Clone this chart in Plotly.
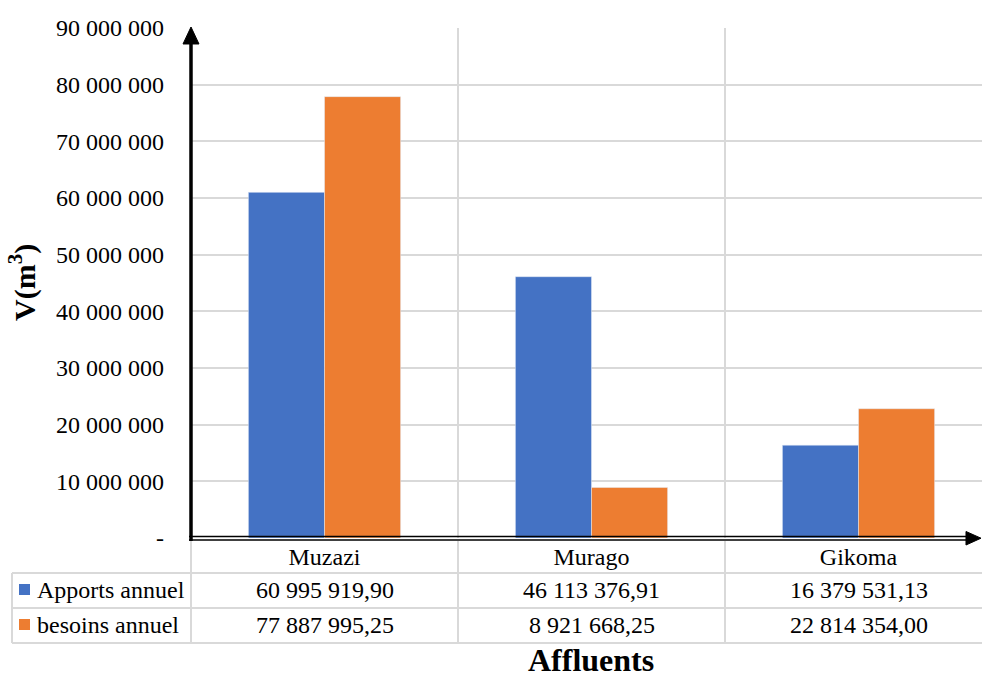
import plotly.graph_objects as go

# Data
categories = ["Muzazi", "Murago", "Gikoma"]
apports = [60995919.90, 46113376.91, 16379531.13]
besoins = [77887995.25, 8921668.25, 22814354.00]
series_names = ["Apports annuel", "besoins annuel"]
y_ticks = [0, 10000000, 20000000, 30000000, 40000000, 50000000,
           60000000, 70000000, 80000000, 90000000]

BLUE = "#4472C4"
ORANGE = "#ED7D31"
GRID = "#D9D9D9"
FONT = "Times New Roman, Liberation Serif, serif"
FS = 24

W, H = 982, 677
L, R, T, B = 191, 0, 28, 139
PW, PH = W - L - R, H - T - B


def fr_int(v):
    return "-" if v == 0 else f"{v:,.0f}".replace(",", " ")


def fr_dec(v):
    return f"{v:,.2f}".replace(",", "X").replace(".", ",").replace("X", " ")


def px_x(px):
    return (px - L) / PW


def px_y(py):
    return (H - B - py) / PH


def tri(points):
    pts = [f"{px_x(x):.5f},{px_y(y):.5f}" for x, y in points]
    return "M " + " L ".join(pts) + " Z"


fig = go.Figure()
fig.add_bar(x=categories, y=apports, name=series_names[0], marker_color=BLUE)
fig.add_bar(x=categories, y=besoins, name=series_names[1], marker_color=ORANGE)

# category width in pixels (plot extends slightly past right edge)
cat_w = 267.0
x_hi = -0.5 + PW / cat_w

fig.update_layout(
    width=W, height=H,
    margin=dict(l=L, r=R, t=T, b=B),
    paper_bgcolor="white", plot_bgcolor="white",
    showlegend=False,
    barmode="group", bargap=0.43, bargroupgap=0,
    font=dict(family=FONT, size=FS, color="black"),
    xaxis=dict(
        range=[-0.5, x_hi],
        tickson="boundaries", showgrid=True, gridcolor=GRID, gridwidth=1.5,
        showline=False, ticks="", ticklabelstandoff=2,
        tickfont=dict(family=FONT, size=FS),
        zeroline=False,
    ),
    yaxis=dict(
        range=[0, 90000000],
        tickvals=y_ticks, ticktext=[fr_int(v) for v in y_ticks],
        showgrid=True, gridcolor=GRID, gridwidth=1.5,
        showline=False, ticks="", ticklabelstandoff=26,
        zeroline=False,
        tickfont=dict(family=FONT, size=FS),
    ),
)

shapes = []
line = dict(color=GRID, width=2)
# data table grid
row_y = [541, 573, 608, 643]
for yy in row_y[1:]:
    shapes.append(dict(type="line", xref="paper", yref="paper",
                       x0=px_x(12), x1=1, y0=px_y(yy), y1=px_y(yy), line=line))
shapes.append(dict(type="line", xref="paper", yref="paper",
                   x0=px_x(12), x1=px_x(12), y0=px_y(573), y1=px_y(643), line=line))
for i in range(3):
    xb = L + i * cat_w
    shapes.append(dict(type="line", xref="paper", yref="paper",
                       x0=px_x(xb), x1=px_x(xb), y0=px_y(541), y1=px_y(643), line=line))
# legend keys in the table
for yc, col in [(590, BLUE), (625, ORANGE)]:
    shapes.append(dict(type="rect", xref="paper", yref="paper",
                       x0=px_x(19), x1=px_x(30), y0=px_y(yc - 6), y1=px_y(yc + 5),
                       fillcolor=col, line=dict(width=0)))
# axis lines: double horizontal rule, thick vertical axis
for yy in (536.5, 540):
    shapes.append(dict(type="line", xref="paper", yref="paper",
                       x0=px_x(189), x1=px_x(970), y0=px_y(yy), y1=px_y(yy),
                       line=dict(color="black", width=1.6)))
shapes.append(dict(type="line", xref="paper", yref="paper",
                   x0=0, x1=0, y0=px_y(541), y1=px_y(40),
                   line=dict(color="black", width=3.5)))
# arrowheads
shapes.append(dict(type="path", xref="paper", yref="paper",
                   path=tri([(191, 27), (199, 44), (183, 44)]),
                   fillcolor="black", line=dict(color="black", width=1)))
shapes.append(dict(type="path", xref="paper", yref="paper",
                   path=tri([(981, 538.2), (966, 531.5), (966, 545)]),
                   fillcolor="black", line=dict(color="black", width=1)))
fig.update_layout(shapes=shapes)

ann = []
# table row labels and values
for name, vals, yc in [(series_names[0], apports, 590), (series_names[1], besoins, 625)]:
    ann.append(dict(xref="paper", yref="paper", x=px_x(35), y=px_y(yc),
                    xanchor="left", yanchor="middle", showarrow=False,
                    text=name, font=dict(family=FONT, size=FS)))
    for i, v in enumerate(vals):
        ann.append(dict(xref="x", yref="paper", x=categories[i], y=px_y(yc),
                        xanchor="center", yanchor="middle", showarrow=False,
                        text=fr_dec(v), font=dict(family=FONT, size=FS)))
# axis titles
ann.append(dict(xref="paper", yref="paper", x=px_x(591), y=px_y(660),
                xanchor="center", yanchor="middle", showarrow=False,
                text="<b>Affluents</b>", font=dict(family=FONT, size=32)))
ann.append(dict(xref="paper", yref="paper", x=px_x(22), y=px_y(283),
                xanchor="center", yanchor="middle", showarrow=False, textangle=-90,
                text="<b>V(m<sup>3</sup>)</b>", font=dict(family=FONT, size=30)))
fig.update_layout(annotations=ann)

fig.write_html("out.html")
